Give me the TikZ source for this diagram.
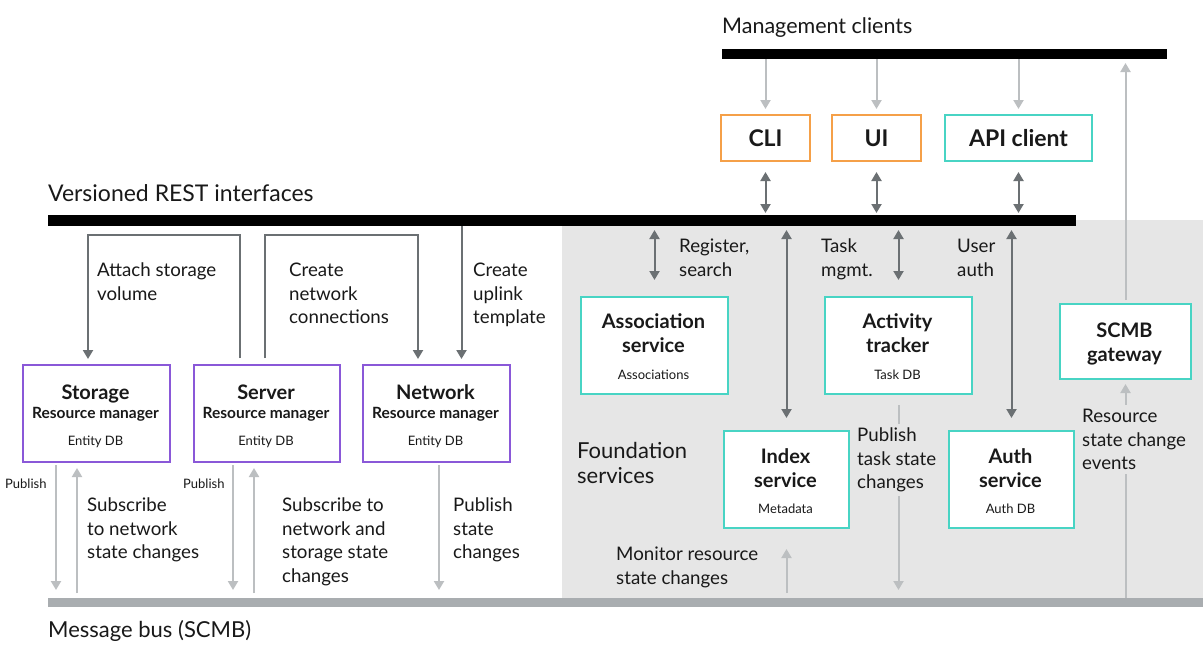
\documentclass[tikz,border=0pt]{standalone}
\usepackage{fontspec}
\setmainfont{Lato}
\usetikzlibrary{arrows.meta,calc}
\definecolor{dkarrow}{RGB}{107,112,115}
\definecolor{ltarrow}{RGB}{188,191,193}
\definecolor{busgray}{RGB}{169,173,176}
\definecolor{bggray}{RGB}{230,230,230}
\definecolor{hpeorange}{RGB}{245,160,72}
\definecolor{hpeteal}{RGB}{72,212,196}
\definecolor{hpepurple}{RGB}{138,88,216}
\definecolor{txt}{RGB}{25,25,25}
\begin{document}
\begin{tikzpicture}[x=1pt,y=-1pt,
  every node/.style={text=txt},
  tip/.tip={Triangle[width=10pt,length=9pt]},
  darr/.style={draw=dkarrow, line width=2pt, -tip},
  dbl/.style={draw=dkarrow, line width=2pt, tip-tip},
  larr/.style={draw=ltarrow, line width=2pt, -tip},
  bar/.style={fill=#1, inner sep=0pt, outer sep=0pt, anchor=north west},
  box/.style={draw=#1, line width=2pt, fill=white, inner sep=0pt, anchor=north west},
  clientbox/.style={box=#1, minimum height=46, font=\bfseries\fontsize{23}{26}\selectfont, text height=16.5pt, text depth=0pt},
  ttl/.style={font=\bfseries\fontsize{20}{24}\selectfont, anchor=base, inner sep=0pt},
  subt/.style={font=\bfseries\fontsize{15.5}{18}\selectfont, anchor=base, inner sep=0pt},
  dbt/.style={font=\fontsize{13}{15}\selectfont, anchor=base, inner sep=0pt},
  lab/.style={font=\fontsize{18.7}{23.5}\selectfont, align=left, anchor=north west, inner sep=0pt},
  glab/.style={lab, fill=bggray, inner sep=4pt},
  big/.style={font=\fontsize{22}{25}\selectfont, align=left, anchor=north west, inner sep=0pt},
  small/.style={font=\fontsize{13}{15}\selectfont, anchor=west, inner sep=0pt}
]
\useasboundingbox (0,0) rectangle (1203,646);
\fill[white] (0,0) rectangle (1203,646);
\fill[bggray] (562,220) rectangle (1203,598);

% bars
\node[bar=black, minimum width=445, minimum height=10] (mgmt) at (722,49) {};
\node[bar=black, minimum width=1028, minimum height=11] (rest) at (48,215) {};
\node[bar=busgray, minimum width=1155, minimum height=9] (bus) at (48,598) {};

% bar titles
\node[big, font=\fontsize{21.5}{25}\selectfont] (mgmtlbl) at (722,17) {Management clients};
\node[big, font=\fontsize{23}{25}\selectfont] (restlbl) at (48,184) {Versioned REST interfaces};
\node[big] (buslbl) at (48,620) {Message bus (SCMB)};
\node[big, font=\fontsize{22}{25}\selectfont] (foundlbl) at (577,442) {Foundation\\services};

% clients
\node[clientbox=hpeorange, minimum width=89] (cli) at (720,114) {CLI};
\node[clientbox=hpeorange, minimum width=89] (ui) at (831,114) {UI};
\node[clientbox=hpeteal, minimum width=147] (api) at (944,114) {API client};

% resource managers
\node[box=hpepurple, minimum width=147, minimum height=97] (storage) at (22,364) {};
\node[box=hpepurple, minimum width=146, minimum height=97] (server) at (193,364) {};
\node[box=hpepurple, minimum width=147, minimum height=97] (network) at (362,364) {};
\node[ttl] at (95.5,399) {Storage};
\node[subt] at (95.5,418) {Resource manager};
\node[dbt] at (95.5,445) {Entity DB};
\node[ttl] at (266,399) {Server};
\node[subt] at (266,418) {Resource manager};
\node[dbt] at (266,445) {Entity DB};
\node[ttl] at (435.5,399) {Network};
\node[subt] at (435.5,418) {Resource manager};
\node[dbt] at (435.5,445) {Entity DB};

% foundation services
\node[box=hpeteal, minimum width=147, minimum height=97] (assoc) at (580,296) {};
\node[box=hpeteal, minimum width=147, minimum height=97] (activity) at (824,296) {};
\node[box=hpeteal, minimum width=131, minimum height=75] (gateway) at (1059,303) {};
\node[box=hpeteal, minimum width=125, minimum height=97] (index) at (723,430) {};
\node[box=hpeteal, minimum width=125, minimum height=97] (auth) at (948,430) {};
\node[ttl] at (653.5,328) {Association};
\node[ttl] at (653.5,352) {service};
\node[dbt] at (653.5,379) {Associations};
\node[ttl] at (897.5,328) {Activity};
\node[ttl] at (897.5,352) {tracker};
\node[dbt] at (897.5,379) {Task DB};
\node[ttl] at (1124.5,337) {SCMB};
\node[ttl] at (1124.5,361) {gateway};
\node[ttl] at (785.5,463) {Index};
\node[ttl] at (785.5,487) {service};
\node[dbt] at (785.5,513) {Metadata};
\node[ttl] at (1010.5,463) {Auth};
\node[ttl] at (1010.5,487) {service};
\node[dbt] at (1010.5,513) {Auth DB};

% helper coordinates
\coordinate (hy) at (0,235);
\coordinate (s1) at ([xshift=-27pt]server.north);
\coordinate (s2) at ([xshift=-2pt]server.north);
\coordinate (st1) at ([xshift=-8.5pt]storage.north);
\coordinate (n1) at ([xshift=-18.5pt]network.north);
\coordinate (n2) at ([xshift=25pt]network.north);
\coordinate (sp) at ([xshift=-40.5pt]storage.south);
\coordinate (ss) at ([xshift=-19.5pt]storage.south);
\coordinate (vp) at ([xshift=-34pt]server.south);
\coordinate (vs) at ([xshift=-13pt]server.south);
\coordinate (np) at ([xshift=2.5pt]network.south);

% management clients to clients
\draw[larr, shorten >=5pt] (mgmt.south -| cli.north) -- (cli.north);
\draw[larr, shorten >=5pt] (mgmt.south -| ui.north) -- (ui.north);
\draw[larr, shorten >=5pt] (mgmt.south -| api.north) -- (api.north);
% clients to REST
\draw[dbl, shorten <=10pt, shorten >=2pt] (cli.south) -- (rest.north -| cli.south);
\draw[dbl, shorten <=10pt, shorten >=2pt] (ui.south) -- (rest.north -| ui.south);
\draw[dbl, shorten <=10pt, shorten >=2pt] (api.south) -- (rest.north -| api.south);
% REST to foundation
\draw[dbl, shorten <=4pt, shorten >=16pt] (rest.south -| assoc.north) -- (assoc.north);
\draw[dbl, shorten <=4pt, shorten >=12pt] (rest.south -| index.north) -- (index.north);
\draw[dbl, shorten <=4pt, shorten >=16pt] (rest.south -| activity.north) -- (activity.north);
\draw[dbl, shorten <=4pt, shorten >=12pt] (rest.south -| auth.north) -- (auth.north);

% resource manager connectors
\draw[darr, shorten <=6pt, shorten >=5pt] (s1) -- (s1 |- hy) -| (st1);
\draw[darr, shorten <=6pt, shorten >=5pt] (s2) -- (s2 |- hy) -| (n1);
\draw[darr, shorten >=5pt] (rest.south -| n2) -- (n2);

% publish / subscribe
\draw[larr, shorten <=2pt, shorten >=8pt] (sp) -- (bus.north -| sp);
\draw[larr, shorten <=5pt, shorten >=5pt] (bus.north -| ss) -- (ss);
\draw[larr, shorten <=2pt, shorten >=8pt] (vp) -- (bus.north -| vp);
\draw[larr, shorten <=5pt, shorten >=5pt] (bus.north -| vs) -- (vs);
\draw[larr, shorten <=2pt, shorten >=8pt] (np) -- (bus.north -| np);
\draw[larr, shorten <=5pt, shorten >=20pt] (bus.north -| index.south) -- (index.south);
\draw[larr, shorten <=10pt, shorten >=8pt] (activity.south) -- (bus.north -| activity.south);
\draw[larr, shorten >=4pt] (bus.north -| gateway.south) -- (gateway.south);
\draw[larr, shorten <=3pt, shorten >=4pt] (gateway.north) -- (mgmt.south -| gateway.north);

% labels
\node[lab] at (97,263) {Attach storage\\volume};
\node[lab] at (289,263) {Create\\network\\connections};
\node[lab] at (473,263) {Create\\uplink\\template};
\node[small] at (5,484) {Publish};
\node[small] at (183,484) {Publish};
\node[lab] at (87,498) {Subscribe\\to network\\state changes};
\node[lab] at (282,498) {Subscribe to\\network and\\storage state\\changes};
\node[lab] at (453,498) {Publish\\state\\changes};
\node[lab] at (679,239) {Register,\\search};
\node[lab] at (821,239) {Task\\mgmt.};
\node[lab] at (957,239) {User\\auth};
\node[glab] at (853,424) {Publish\\task state\\changes};
\node[glab] at (1078,405) {Resource\\state change\\events};
\node[lab] at (616,547) {Monitor resource\\state changes};
\end{tikzpicture}
\end{document}
